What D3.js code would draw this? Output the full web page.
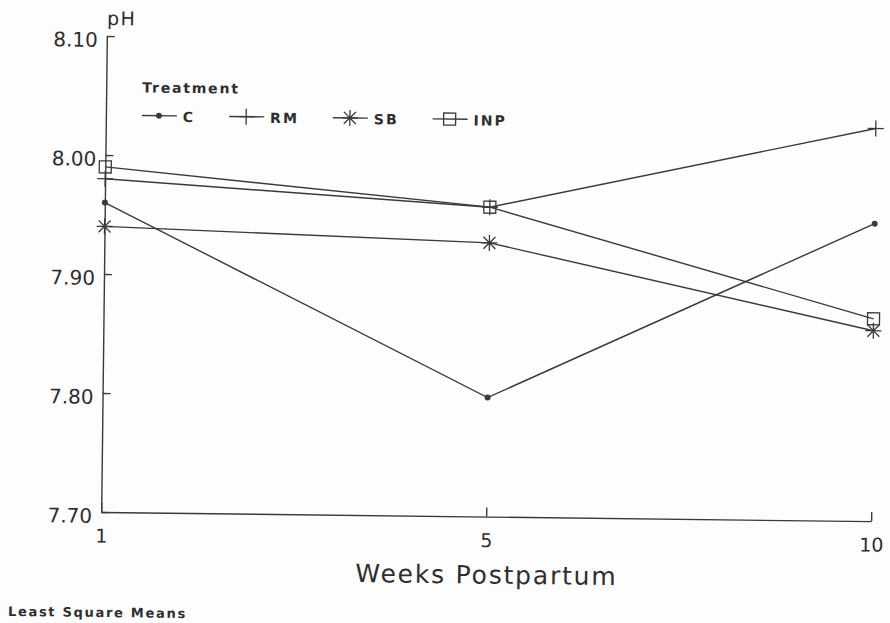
<!DOCTYPE html>
<html>
<head>
<meta charset="utf-8">
<script src="https://cdn.jsdelivr.net/npm/d3@7"></script>
<style>
  html, body { margin: 0; padding: 0; background: #fdfdfd; }
  svg { display: block; }
  text { fill: #2e2e2e; font-family: "DejaVu Sans", sans-serif; }
</style>
</head>
<body>
<svg id="chart" width="890" height="623"></svg>
<script>
// Weeks postpartum (x categories)
const weeks = ["1", "5", "10"];
// Treatment groups
const treatments = ["C", "RM", "SB", "INP"];
// Least square mean pH by week for each treatment
const phC   = [7.96, 7.80, 7.95];
const phRM  = [7.98, 7.96, 8.03];
const phSB  = [7.94, 7.93, 7.86];
const phINP = [7.99, 7.96, 7.87];
// Y axis tick values
const yTicks = [7.70, 7.80, 7.90, 8.00, 8.10];

const seriesValues = [phC, phRM, phSB, phINP];
const ink = "#3a3a3a";

const svg = d3.select("#chart");
// the whole page sits very slightly tilted
const g = svg.append("g").attr("transform", "rotate(0.68, 104, 275)");

const x = d3.scalePoint().domain(weeks).range([104, 874]);
const y = d3.scaleLinear().domain([7.70, 8.10]).range([512, 36]);

// Y axis with inward ticks
const yAxis = g.append("g")
  .attr("transform", "translate(104,0)")
  .call(d3.axisLeft(y).tickValues(yTicks).tickFormat(d3.format(".2f"))
        .tickSizeInner(-8).tickSizeOuter(0).tickPadding(9));
yAxis.selectAll("text").attr("font-size", 20).attr("dy", "0.52em").attr("fill", "#2e2e2e");

// X axis with upward ticks
const xAxis = g.append("g")
  .attr("transform", "translate(0,512)")
  .call(d3.axisBottom(x).tickSizeInner(-9).tickSizeOuter(0).tickPadding(17));
xAxis.selectAll("text").attr("font-size", 19).attr("fill", "#2e2e2e");

[yAxis, xAxis].forEach(a => {
  a.selectAll("path, line").attr("stroke", ink).attr("stroke-width", 1.4);
  a.attr("font-family", null);
});

// Axis titles
g.append("text").attr("x", 104).attr("y", 25).attr("font-size", 19)
  .attr("letter-spacing", 1.5).text("pH");
g.append("text").attr("x", 490).attr("y", 579).attr("text-anchor", "middle")
  .attr("font-size", 25).attr("letter-spacing", 1.8).text("Weeks Postpartum");
g.append("text").attr("x", 12).attr("y", 617).attr("font-size", 13)
  .attr("font-weight", "bold").attr("letter-spacing", 1.7).text("Least Square Means");

// Marker drawing per treatment
function drawMarker(sel, name, cx, cy) {
  const m = sel.append("g").attr("transform", `translate(${cx},${cy})`)
    .attr("stroke", ink).attr("stroke-width", 1.3).attr("fill", "none");
  if (name === "C") {
    m.append("circle").attr("r", 3).attr("fill", ink).attr("stroke", "none");
  } else if (name === "RM") {
    m.append("path").attr("d", "M-8,0H8M0,-8V8");
  } else if (name === "SB") {
    m.append("path").attr("d", "M-8,0H8M0,-8V8M-6,-6L6,6M-6,6L6,-6");
  } else {
    m.append("rect").attr("x", -6).attr("y", -6).attr("width", 12).attr("height", 12);
  }
}

const line = d3.line().x((d, i) => x(weeks[i])).y(d => y(d));

treatments.forEach((name, k) => {
  g.append("path").datum(seriesValues[k]).attr("d", line)
    .attr("fill", "none").attr("stroke", ink).attr("stroke-width", 1.4);
});
treatments.forEach((name, k) => {
  seriesValues[k].forEach((v, i) => drawMarker(g, name, x(weeks[i]), y(v)));
});

// Legend
const legend = g.append("g");
legend.append("text").attr("x", 140).attr("y", 92).attr("font-size", 14)
  .attr("font-weight", "bold").attr("letter-spacing", 1.8).text("Treatment");
let lx = 140;
const ly = 115;
treatments.forEach(name => {
  legend.append("line").attr("x1", lx).attr("x2", lx + 35).attr("y1", ly).attr("y2", ly)
    .attr("stroke", ink).attr("stroke-width", 1.4);
  drawMarker(legend, name, lx + 17, ly);
  const t = legend.append("text").attr("x", lx + 41).attr("y", ly + 6)
    .attr("font-size", 14).attr("font-weight", "bold").attr("letter-spacing", 2).text(name);
  lx = lx + 41 + t.node().getComputedTextLength() + 34;
});
</script>
</body>
</html>
